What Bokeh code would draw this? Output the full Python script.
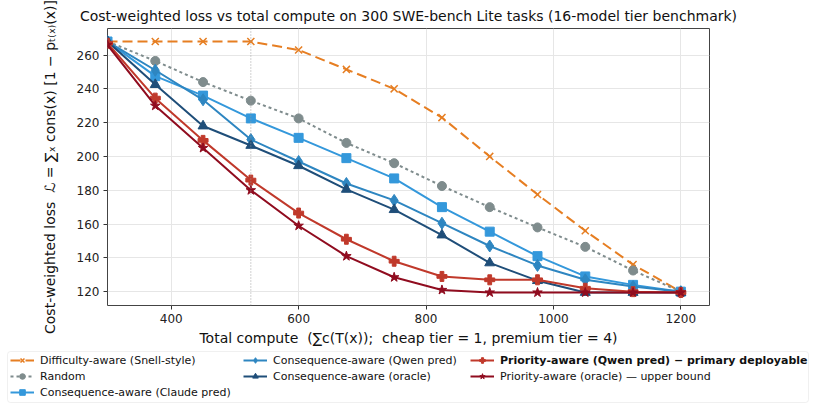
from bokeh.plotting import figure
from bokeh.models import Legend, LegendItem, Span, BoxAnnotation, Range1d, FixedTicker
from bokeh.embed import file_html
from bokeh.resources import INLINE

# ---- data -------------------------------------------------------------
compute = [300, 375, 450, 525, 600, 675, 750, 825, 900, 975, 1050, 1125, 1200]

difficulty_aware = [268, 268, 268, 268, 263, 251.5, 240, 223, 200, 177.5, 156, 136, 120]
random_order = [268, 256.5, 244, 233, 222.5, 208, 196, 182.5, 170, 158, 146.5, 132.5, 120]
cons_claude = [268, 247.5, 236, 222.5, 211, 199, 187, 170, 155.5, 141, 129, 124, 120]
cons_qwen = [268, 251, 233.5, 210, 197, 184, 174, 160.5, 147, 135.5, 127, 123, 120]
cons_oracle = [268, 242.5, 218, 206.5, 194.5, 180.5, 168.5, 153.5, 137, 126.5, 119.5, 119.5, 119.5]
priority_qwen = [267, 234.5, 209.5, 186, 166.5, 151, 138, 129, 127, 127, 122, 120, 119.5]
priority_oracle = [266, 230, 205, 180, 159, 141, 128.5, 121, 119.5, 119.5, 119.5, 119.5, 119.5]

budget_marker = 525

x_ticks = [400, 600, 800, 1000, 1200]
y_ticks = [120, 140, 160, 180, 200, 220, 240, 260]

FONT = "DejaVu Sans"

# ---- main axes --------------------------------------------------------
p = figure(width=816, height=348, output_backend="svg", toolbar_location=None,
           x_range=Range1d(300, 1245), y_range=Range1d(111.8, 275.7),
           min_border_left=107, min_border_right=107,
           min_border_top=26, min_border_bottom=42)

p.title.text = ("Cost-weighted loss vs total compute on 300 SWE-bench Lite tasks "
                "(16-model tier benchmark)")
p.title.align = "center"
p.title.text_font = FONT
p.title.text_font_size = "14px"
p.title.text_font_style = "normal"
p.title.text_color = "#111111"

p.outline_line_color = "#444444"
p.outline_line_width = 1

p.xaxis.ticker = FixedTicker(ticks=x_ticks)
p.yaxis.ticker = FixedTicker(ticks=y_ticks)
for ax in (p.xaxis[0], p.yaxis[0]):
    ax.axis_line_color = None
    ax.major_tick_line_color = "#333333"
    ax.major_tick_out = 4
    ax.major_tick_in = 0
    ax.minor_tick_line_color = None
    ax.major_label_text_font = FONT
    ax.major_label_text_font_size = "12px"
    ax.major_label_text_color = "#222222"
    ax.axis_label_text_font = FONT
    ax.axis_label_text_font_size = "14px"
    ax.axis_label_text_font_style = "normal"
    ax.axis_label_text_color = "#111111"

p.xaxis.axis_label = ("Total compute \u00a0(\u2211c(T(x)); \u00a0cheap tier = 1, "
                      "premium tier = 4)")
p.yaxis.axis_label = ("Cost-weighted loss \u00a0\u2112 = \u2211\u2093 cons(x) "
                      "[1 \u2212 p\u209c\u208d\u2093\u208e(x)]")
p.xaxis.axis_label_standoff = 4
p.yaxis.axis_label_standoff = 16
p.xaxis.major_label_standoff = 4
p.yaxis.major_label_standoff = 4

p.grid.grid_line_color = "#e6e6e6"
p.grid.grid_line_width = 1

p.add_layout(Span(location=budget_marker, dimension="height", line_color="#999999",
                  line_dash="1 2", line_width=1, line_alpha=0.9))

series = [
    ("Difficulty-aware (Snell-style)", difficulty_aware, "#e67e22", "10 5", "x", 10),
    ("Random", random_order, "#7f8c8d", "3 3", "circle", 9),
    ("Consequence-aware (Claude pred)", cons_claude, "#3498db", "solid", "square", 9),
    ("Consequence-aware (Qwen pred)", cons_qwen, "#2e86c1", "solid", "diamond", 12),
    ("Consequence-aware (oracle)", cons_oracle, "#1f4e79", "solid", "triangle", 10),
    ("Priority-aware (Qwen pred) \u2212 primary deployable", priority_qwen, "#c0392b", "solid", "plus", 10),
    ("Priority-aware (oracle) \u2014 upper bound", priority_oracle, "#900c1f", "solid", "star", 10),
]


def draw_series(fig, xs, ys, color, dash, marker, size):
    lr = fig.line(xs, ys, line_color=color, line_width=2, line_dash=dash)
    if marker == "x":
        sr = fig.scatter(xs, ys, marker=marker, size=size, line_color=color,
                         line_width=1.5, fill_color=None)
    else:
        sr = fig.scatter(xs, ys, marker=marker, size=size, line_color=color,
                         fill_color=color, line_width=1)
    return [lr, sr]


for label, ys, color, dash, marker, size in series:
    draw_series(p, compute, ys, color, dash, marker, size)

# ---- legend strip below the axes ------------------------------------
# Its ranges leave the series out of view; the renderers only supply legend keys.
lg_fig = figure(width=816, height=62, output_backend="svg", toolbar_location=None,
                x_range=Range1d(0, 1), y_range=Range1d(0, 1),
                x_axis_location=None, y_axis_location=None,
                min_border=0, min_border_left=0, min_border_right=0,
                min_border_top=0, min_border_bottom=0,
                outline_line_color=None)
lg_fig.grid.visible = False

items = []
for label, ys, color, dash, marker, size in series:
    keys = draw_series(lg_fig, compute, ys, color, dash, marker, size)
    items.append(LegendItem(label=label, renderers=keys))

lg_fig.add_layout(BoxAnnotation(left=7, right=808, top=59, bottom=8,
                                left_units="screen", right_units="screen",
                                top_units="screen", bottom_units="screen",
                                fill_color="white", fill_alpha=1,
                                line_color="#cccccc", line_width=1,
                                border_radius=3))


def add_legend(entries, vx, vy, style="normal"):
    lg = Legend(items=entries, location=(vx, vy), orientation="vertical",
                glyph_width=24, glyph_height=14, label_height=14, spacing=2,
                padding=2, margin=0, label_standoff=6,
                label_text_font=FONT, label_text_font_size="11px",
                label_text_font_style=style, label_text_color="#111111",
                border_line_alpha=0, background_fill_alpha=0)
    lg_fig.add_layout(lg)


add_legend(items[0:3], 8, 9)
add_legend(items[3:5], 241, 25)
add_legend(items[5:6], 468, 41, style="bold")
add_legend(items[6:7], 468, 25)

open("out.html", "w").write(file_html([p, lg_fig], INLINE))
